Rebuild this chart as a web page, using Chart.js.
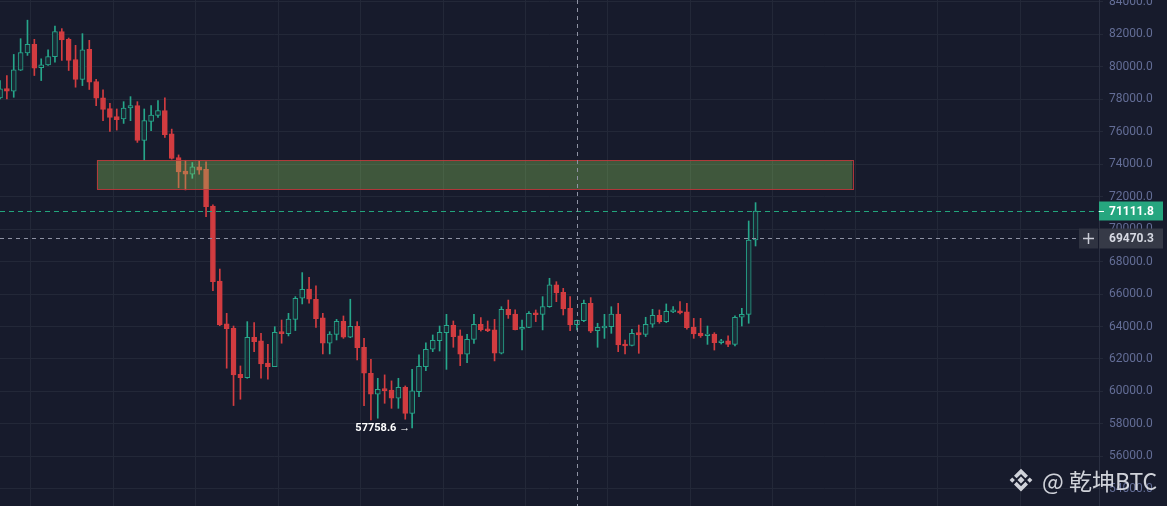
<!DOCTYPE html>
<html>
<head>
<meta charset="utf-8">
<title>BTC</title>
<script src="https://cdn.jsdelivr.net/npm/chart.js@4/dist/chart.umd.min.js"></script>
<style>
  html, body { margin: 0; padding: 0; background: #171b2c; overflow: hidden; }
  #wrap { position: relative; width: 1167px; height: 506px; }
  #c { display: block; }
  #mark {
    position: absolute; left: 1007px; top: 462px; height: 36px;
    display: flex; align-items: center; gap: 7px;
    color: rgba(224, 226, 232, 0.92);
    font-family: "Noto Sans CJK SC", "Noto Sans", sans-serif;
    font-size: 23px; white-space: nowrap; pointer-events: none;
  }
  #mark svg { width: 28px; height: 28px; }
</style>
</head>
<body>
<div id="wrap">
  <canvas id="c" width="1167" height="506"></canvas>
  <div id="mark">
    <svg viewBox="0 0 32 32">
      <g fill="rgba(224,226,232,0.92)">
        <polygon points="16,12 20,16 16,20 12,16"/>
        <polygon points="6,13 9,16 6,19 3,16"/>
        <polygon points="26,13 29,16 26,19 23,16"/>
        <polygon points="16,3 24,11 21,14 16,9 11,14 8,11"/>
        <polygon points="16,29 24,21 21,18 16,23 11,18 8,21"/>
      </g>
    </svg>
    <span>@ 乾坤BTC</span>
  </div>
</div>
<script>
// Candle data (oldest first)
const opens = [
  78080, 78660, 78490, 79790, 80850, 81380, 79940, 80120, 80620, 82170,
  81690, 80450, 79220, 81070, 79090, 78080, 77420, 76930, 76780, 77460,
  77610, 75460, 76640, 77010, 77300, 75870, 74410, 73580, 73380, 73830,
  73680, 71420, 66800, 64160, 63890, 61060, 60850, 63340, 63110, 61750,
  61530, 63680, 63560, 64440, 65740, 66310, 65680, 64530, 62970, 63520,
  64320, 63340, 64010, 62720, 61120, 59830, 60170, 60090, 59580, 60260,
  58650, 59990, 61530, 62600, 63130, 63620, 64070, 63420, 62290, 63210,
  64140, 63850, 63790, 62350, 65060, 64770, 63830, 63950, 64850, 64750,
  65220, 66560, 66110, 65120, 64110, 64360, 65430, 63750, 63910, 63990,
  64770, 62920, 62840, 63620, 63520, 64140, 64690, 64300, 64900, 64960,
  64900, 63970, 63600, 63440, 63540, 63010, 63110, 62900, 64570, 64750,
  69330
];
const highs = [
  79150, 79460, 80760, 81730, 82870, 81690, 80490, 81050, 82500, 82350,
  81770, 81320, 82040, 81630, 79220, 78580, 77750, 77400, 77850, 78160,
  77850, 77400, 77610, 77920, 78080, 76160, 74570, 74240, 74100, 74200,
  74150, 71490, 67540, 64810, 64030, 61570, 64300, 64240, 63580, 62900,
  63990, 64400, 64810, 65840, 67320, 67030, 66500, 64810, 63680, 64440,
  64650, 65680, 64300, 63270, 61980, 60810, 61020, 60650, 60810, 60340,
  61360, 62250, 63000, 63480, 64030, 64750, 64340, 63790, 63520, 64750,
  64550, 64340, 64440, 65220, 65630, 65020, 64400, 64920, 65020, 65840,
  66970, 66760, 66350, 65840, 64400, 65630, 65780, 64200, 64750, 65220,
  65430, 63170, 63830, 64090, 64570, 65060, 65020, 65390, 65220, 65530,
  65430, 64500, 64500, 64030, 63620, 63210, 63420, 64650, 65120, 70500,
  71630
];
const lows = [
  78020, 78020, 78120, 79770, 80700, 79460, 79150, 80080, 80290, 80390,
  79770, 78740, 78840, 78600, 77610, 76680, 76020, 76100, 76510, 76680,
  75340, 74240, 76060, 76880, 75650, 74310, 72550, 72410, 73130, 73380,
  70770, 66210, 64050, 61430, 59130, 59520, 60810, 62450, 60810, 60750,
  61530, 62970, 63420, 63750, 65390, 65430, 63950, 62310, 62310, 63170,
  63270, 63310, 61940, 59130, 58240, 58350, 59270, 58960, 58960, 58290,
  57758.6, 59680, 61280, 62450, 62490, 61360, 62720, 61590, 61770, 62960,
  63720, 63680, 61880, 62310, 64500, 63790, 62550, 63930, 64300, 63790,
  65180, 65530, 64710, 63750, 63790, 64300, 63620, 62720, 63270, 63580,
  62450, 62310, 62800, 62350, 63380, 63950, 64200, 64240, 64850, 64770,
  63830, 63270, 63330, 62900, 62550, 62920, 62760, 62800, 64030, 64200,
  68960
];
const closes = [
  78640, 78490, 79810, 80870, 81380, 79920, 80120, 80620, 82170, 81650,
  80390, 79220, 81050, 79050, 78060, 77380, 76880, 76740, 77460, 77610,
  75460, 76680, 77030, 77300, 75810, 74350, 73520, 73380, 73830, 73630,
  71380, 66760, 64100, 63870, 61020, 60850, 63340, 63070, 61690, 61530,
  63640, 63560, 64460, 65740, 66290, 65680, 64490, 62970, 63540, 64320,
  63340, 64010, 62700, 61120, 59830, 60130, 60050, 59580, 60260, 58650,
  60030, 61550, 62600, 63150, 63640, 64070, 63380, 62290, 63210, 64140,
  63810, 63750, 62350, 65060, 64710, 63810, 63950, 64810, 64730, 65220,
  66560, 66090, 65080, 64090, 64380, 65430, 63720, 63950, 64030, 64770,
  62860, 62800, 63580, 63480, 64140, 64690, 64300, 64940, 65020, 64830,
  63930, 63540, 63420, 63540, 63010, 63110, 62900, 64570, 64750, 69330,
  71111.8
];

// Empty slots to the right of the last candle
const futureSlots = 50;

// Price axis
const priceMin = 52943;
const priceMax = 84113;
const priceStep = 2000;

// Highlighted supply zone (slot range and price band)
const zone = { from: 14.1, to: 124.1, low: 72450, high: 74250 };

// Cursor position
const crosshair = { index: 84, price: 69470.3 };

const UP = '#26a68a';
const DOWN = '#d23c40';
const HOLLOW = '#1a2a35';
const GRID = '#232838';
const BG = '#171b2c';

const slots = Array.from({ length: opens.length + futureSlots }, (_, i) => String(i));
const isUp = opens.map((o, i) => closes[i] >= o);

const bgPlugin = {
  id: 'bg',
  beforeDraw(chart) {
    const ctx = chart.ctx;
    ctx.save();
    ctx.fillStyle = BG;
    ctx.fillRect(0, 0, chart.width, chart.height);
    ctx.restore();
  }
};

const zonePlugin = {
  id: 'zone',
  afterDatasetsDraw(chart) {
    const { ctx, scales: { x, y } } = chart;
    const x1 = x.getPixelForValue(zone.from);
    const x2 = x.getPixelForValue(zone.to);
    const y1 = y.getPixelForValue(zone.high);
    const y2 = y.getPixelForValue(zone.low);
    ctx.save();
    ctx.fillStyle = 'rgba(150, 215, 95, 0.32)';
    ctx.fillRect(x1, y1, x2 - x1, y2 - y1);
    ctx.strokeStyle = 'rgba(190, 55, 60, 0.9)';
    ctx.lineWidth = 1;
    ctx.strokeRect(Math.round(x1) + 0.5, Math.round(y1) + 0.5, Math.round(x2 - x1), Math.round(y2 - y1));
    ctx.restore();
  }
};

const overlayPlugin = {
  id: 'overlay',
  afterDraw(chart) {
    const { ctx, chartArea: area, scales: { x, y } } = chart;
    const last = closes[closes.length - 1];
    const yLast = Math.round(y.getPixelForValue(last)) + 0.5;
    const yCross = Math.round(y.getPixelForValue(crosshair.price)) + 0.5;
    const xCross = Math.round(x.getPixelForValue(crosshair.index)) + 0.5;
    ctx.save();
    ctx.lineWidth = 1;

    // last price line
    ctx.strokeStyle = '#22a57c';
    ctx.setLineDash([5, 4]);
    ctx.beginPath();
    ctx.moveTo(area.left, yLast);
    ctx.lineTo(area.right, yLast);
    ctx.stroke();

    // cursor lines
    ctx.strokeStyle = '#8e92a3';
    ctx.setLineDash([4, 4]);
    ctx.beginPath();
    ctx.moveTo(area.left, yCross);
    ctx.lineTo(area.right - 20, yCross);
    ctx.moveTo(xCross, area.top);
    ctx.lineTo(xCross, area.bottom);
    ctx.stroke();
    ctx.setLineDash([]);

    const boxL = area.right;
    const boxW = 64;
    const boxH = 19;
    ctx.font = 'bold 12px Roboto, "Open Sans", sans-serif';
    ctx.textBaseline = 'middle';
    ctx.textAlign = 'left';

    // last price tag
    ctx.fillStyle = '#26a67f';
    ctx.fillRect(boxL, yLast - 10, boxW, boxH);
    ctx.strokeStyle = '#ffffff';
    ctx.beginPath();
    ctx.moveTo(boxL, yLast);
    ctx.lineTo(boxL + 5, yLast);
    ctx.stroke();
    ctx.fillStyle = '#ffffff';
    ctx.fillText(last.toFixed(1), boxL + 10, yLast);

    // cursor price tag with add button
    ctx.fillStyle = '#2f3341';
    ctx.fillRect(boxL - 20, yCross - 10, 19, boxH + 1);
    ctx.strokeStyle = '#c9ccd6';
    ctx.lineWidth = 1.5;
    ctx.beginPath();
    ctx.moveTo(boxL - 16, yCross);
    ctx.lineTo(boxL - 5, yCross);
    ctx.moveTo(boxL - 10.5, yCross - 5.5);
    ctx.lineTo(boxL - 10.5, yCross + 5.5);
    ctx.stroke();
    ctx.fillStyle = '#363a47';
    ctx.fillRect(boxL, yCross - 10, boxW, boxH + 1);
    ctx.fillStyle = '#d6d9e2';
    ctx.fillText(crosshair.price.toFixed(1), boxL + 10, yCross);

    // lowest low marker
    let minIdx = 0;
    lows.forEach((l, i) => { if (l < lows[minIdx]) minIdx = i; });
    const lx = x.getPixelForValue(minIdx) - 2;
    const ly = y.getPixelForValue(lows[minIdx]);
    ctx.font = 'bold 11px Roboto, "Open Sans", sans-serif';
    ctx.textAlign = 'right';
    ctx.fillStyle = '#ffffff';
    ctx.fillText(lows[minIdx].toFixed(1) + ' \u2192', lx, ly);
    ctx.restore();
  }
};

new Chart(document.getElementById('c'), {
  type: 'bar',
  data: {
    labels: slots,
    datasets: [
      {
        label: 'wick',
        data: lows.map((l, i) => [l, highs[i]]),
        backgroundColor: isUp.map(u => (u ? UP : DOWN)),
        borderWidth: 0,
        barThickness: 1,
        grouped: false,
        order: 2
      },
      {
        label: 'body',
        data: opens.map((o, i) => [o, closes[i]]),
        backgroundColor: isUp.map(u => (u ? HOLLOW : DOWN)),
        borderColor: isUp.map(u => (u ? UP : DOWN)),
        borderWidth: 1,
        borderSkipped: false,
        barThickness: 5,
        grouped: false,
        order: 1
      }
    ]
  },
  options: {
    responsive: false,
    devicePixelRatio: 1,
    animation: false,
    layout: { padding: 0 },
    plugins: { legend: { display: false }, tooltip: { enabled: false } },
    scales: {
      x: {
        offset: false,
        ticks: { display: false },
        grid: {
          color: ctx => (ctx.index % 12 === 5 ? GRID : 'transparent'),
          drawTicks: false
        },
        border: { display: false },
        afterFit(s) { s.height = 0; s.paddingLeft = 0; s.paddingRight = 0; }
      },
      y: {
        position: 'right',
        min: priceMin,
        max: priceMax,
        afterBuildTicks(s) {
          // round-number price levels only
          const t = [];
          for (let v = Math.ceil(priceMin / priceStep) * priceStep; v <= priceMax; v += priceStep) {
            t.push({ value: v });
          }
          s.ticks = t;
        },
        afterFit(s) { s.width = 68; s.paddingTop = 0; s.paddingBottom = 0; },
        ticks: {
          stepSize: priceStep,
          padding: 6,
          color: '#636d96',
          font: { family: 'Roboto', size: 12 },
          callback: v => Number(v).toFixed(1)
        },
        grid: { color: GRID, tickLength: 4, tickColor: GRID },
        border: { color: '#2a2f41' }
      }
    }
  },
  plugins: [bgPlugin, zonePlugin, overlayPlugin]
});
</script>
</body>
</html>
